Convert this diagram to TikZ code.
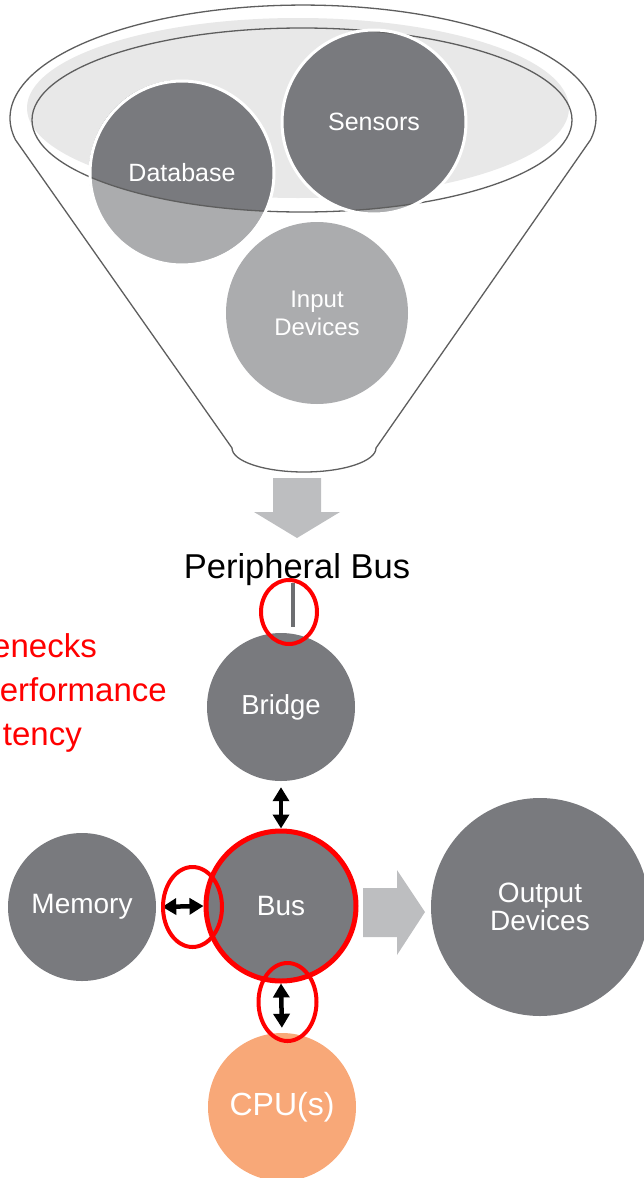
\documentclass[tikz,border=0pt]{standalone}
\usepackage{fontspec}
\setmainfont{Liberation Sans}
\usetikzlibrary{arrows.meta,calc}
\definecolor{dgrey}{HTML}{797A7E}
\definecolor{lgrey}{HTML}{ABACAE}
\definecolor{agrey}{HTML}{BDBEC0}
\definecolor{rimfill}{HTML}{E8E8E8}
\definecolor{outl}{HTML}{5E5E5E}
\definecolor{cpuorange}{HTML}{F8A878}
\definecolor{pline}{HTML}{6D6E71}
\newcommand{\myfs}[2]{\fontsize{#1}{#2}\selectfont}
\tikzset{
  ball/.style={circle, inner sep=0pt, text=white, align=center},
  dblarrow/.style={line width=4.5pt, {Triangle[length=14pt,width=16pt]}-{Triangle[length=14pt,width=16pt]}},
  redring/.style={draw=red, line width=4pt},
  blockarrow/.style={fill=agrey},
  funnelline/.style={draw=outl, line width=1.3pt},
  redtext/.style={anchor=base east, inner sep=0pt, text=red, font=\myfs{33}{40}},
}
\begin{document}
\begin{tikzpicture}[x=1pt,y=-1pt]
\useasboundingbox (0,0) rectangle (644,1178);
\clip (0,0) rectangle (644,1178);

% funnel body
\draw[funnelline, fill=white] (15.6,140) -- (232,448)
  arc[start angle=180, end angle=0, x radius=72, y radius=24]
  -- (590.4,140)
  arc[start angle=11.2, end angle=-191.2, x radius=293, y radius=113] -- cycle;
\fill[rimfill] (298,108) ellipse[x radius=271, y radius=90];

% input devices
\node[ball, fill=lgrey, minimum size=182pt, font=\myfs{24}{28}] (input) at (317,313) {Input\\Devices};

% database and sensors fills
\fill[lgrey] (181,172) circle[radius=92];
\fill[lgrey] (374,121) circle[radius=92];
\begin{scope}
  \clip (302,120) ellipse[x radius=270, y radius=92];
  \fill[dgrey] (181,172) circle[radius=92];
  \fill[dgrey] (374,121) circle[radius=92];
\end{scope}
\draw[funnelline] (302,120) ellipse[x radius=270, y radius=92];
\node[ball, draw=white, line width=3pt, minimum size=184pt, font=\myfs{25}{28}] (db) at (182,173) {Database};
\node[ball, draw=white, line width=3pt, minimum size=184pt, font=\myfs{25}{28}] (sensors) at (374,122) {Sensors};

% down block arrow
\fill[blockarrow] (273,478) -- (321,478) -- (321,512) -- (340,512) -- (297,538) -- (254,512) -- (273,512) -- cycle;

\node[anchor=base, inner sep=0pt, font=\myfs{34.5}{40}] (pbus) at (297,578) {Peripheral Bus};

% red text
\node[redtext] (t1) at (97,657) {enecks};
\node[redtext] (t2) at (167,701) {erformance};
\node[redtext] (t3) at (82,745) {tency};

% nodes
\node[ball, fill=dgrey, minimum size=148pt, font=\myfs{27.5}{30}] (bridge) at (281,707) {Bridge};
\node[ball, fill=dgrey, minimum size=148pt, font=\myfs{28}{30}] (memory) at (82,907) {Memory};
\node[ball, fill=dgrey, draw=red, line width=5pt, minimum size=150pt, font=\myfs{28}{30}] (bus) at (281,906) {Bus};
\node[ball, fill=dgrey, minimum size=218pt, font=\myfs{28}{28}] (output) at (540,907) {Output\\Devices};
\node[ball, fill=cpuorange, minimum size=148pt, font=\myfs{32}{34}] (cpu) at (282,1107) {CPU(s)};

% peripheral line
\coordinate (pl1) at (293,583);
\coordinate (pl2) at (293,627);
\draw[pline, line width=4pt] (pl1) -- (pl2);

% right block arrow
\fill[blockarrow] (363,888) -- (397,888) -- (397,870) -- (425,912) -- (397,955) -- (397,937) -- (363,937) -- cycle;

% double arrows
\draw[dblarrow, shorten <=6pt] (bridge.south) -- (bus.north);
\draw[dblarrow, shorten <=6pt] (memory.east) -- (bus.west);
\draw[dblarrow, shorten >=5pt] (bus.south) -- (cpu.north);

% red rings
\draw[redring] (289,612) ellipse[x radius=28, y radius=32];
\draw[redring] (192.5,907) ellipse[x radius=29.5, y radius=40];
\draw[redring] (287.5,1002) ellipse[x radius=29, y radius=39];
\end{tikzpicture}
\end{document}
